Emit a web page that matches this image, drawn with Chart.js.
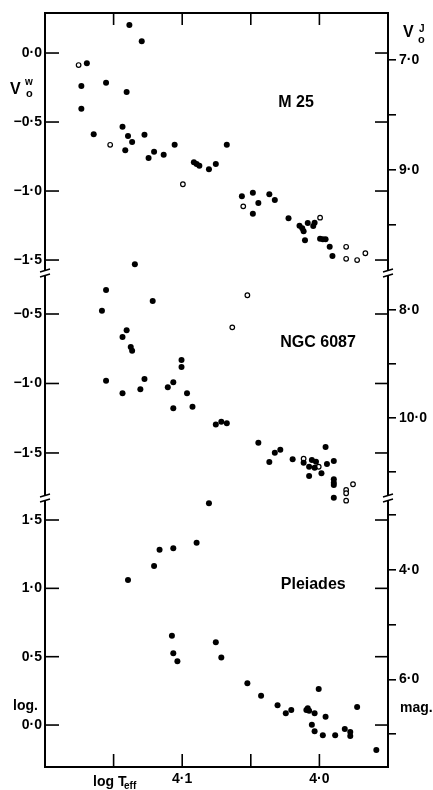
<!DOCTYPE html>
<html>
<head>
<meta charset="utf-8">
<script src="https://cdn.jsdelivr.net/npm/chart.js@4.4.0/dist/chart.umd.min.js"></script>
<style>
  body { margin: 0; background: #fff; }
  #wrap { width: 433px; height: 790px; }
</style>
</head>
<body>
<div id="wrap"><canvas id="hrd"></canvas></div>
<script>
// values (log Teff, V0)
const m25LogT = [4.170, 4.174, 4.174, 4.165, 4.156, 4.141, 4.139, 4.130, 4.144, 4.140, 4.137, 4.142, 4.128, 4.125,
  4.121, 4.114, 4.106, 4.092, 4.090, 4.088, 4.081, 4.076, 4.068, 4.057, 4.049, 4.049, 4.045, 4.037, 4.033, 4.023,
  4.015, 4.013, 4.012, 4.009, 4.011, 4.004, 4.005, 4.000, 3.998, 3.996, 3.993, 3.991];
const m25V = [-0.075, -0.239, -0.404, -0.589, -0.215, -0.283, 0.203, 0.085, -0.534, -0.601, -0.645, -0.705, -0.592, -0.761,
  -0.715, -0.737, -0.665, -0.792, -0.804, -0.817, -0.843, -0.804, -0.665, -1.038, -1.012, -1.164, -1.087, -1.024, -1.065, -1.198,
  -1.251, -1.270, -1.292, -1.232, -1.357, -1.230, -1.254, -1.346, -1.350, -1.350, -1.404, -1.471];
const m25OpenLogT = [4.176, 4.153, 4.100, 4.056, 4.000, 3.981, 3.981, 3.973, 3.967];
const m25OpenV = [-0.087, -0.665, -0.951, -1.111, -1.193, -1.404, -1.491, -1.500, -1.451];

const ngcLogT = [4.135, 4.156, 4.159, 4.122, 4.141, 4.144, 4.138, 4.137, 4.156, 4.144, 4.131, 4.128, 4.111, 4.107,
  4.101, 4.101, 4.107, 4.097, 4.093, 4.076, 4.072, 4.068, 4.045, 4.037, 4.033, 4.029, 4.020, 4.012, 4.008, 4.008,
  4.006, 4.003, 4.004, 3.999, 3.996, 3.995, 3.990, 3.990, 3.990, 3.990, 3.990];
const ngcV = [-0.142, -0.327, -0.476, -0.406, -0.617, -0.665, -0.737, -0.764, -0.980, -1.071, -1.042, -0.968, -1.027, -0.991,
  -0.831, -0.881, -1.178, -1.071, -1.167, -1.296, -1.275, -1.286, -1.426, -1.565, -1.498, -1.476, -1.545, -1.570, -1.599, -1.665,
  -1.550, -1.563, -1.606, -1.646, -1.457, -1.579, -1.558, -1.689, -1.714, -1.730, -1.822];
const ngcOpenLogT = [4.053, 4.064, 4.012, 4.001, 3.981, 3.981, 3.981, 3.976];
const ngcOpenV = [-0.365, -0.596, -1.541, -1.599, -1.766, -1.790, -1.843, -1.725];

const pleiLogT = [4.081, 4.090, 4.107, 4.117, 4.121, 4.140, 4.108, 4.107, 4.104, 4.076, 4.072, 4.053, 4.043, 4.031,
  4.025, 4.021, 4.010, 4.009, 4.008, 4.004, 4.001, 3.996, 4.006, 4.004, 3.998, 3.989, 3.982, 3.978, 3.978, 3.973, 3.959];
const pleiV = [1.622, 1.334, 1.293, 1.282, 1.163, 1.061, 0.653, 0.525, 0.466, 0.605, 0.495, 0.305, 0.214, 0.144,
  0.086, 0.110, 0.110, 0.122, 0.105, 0.086, 0.263, 0.061, 0.002, -0.046, -0.075, -0.075, -0.029, -0.051, -0.080, 0.132, -0.183];

const panelNames = ['M 25', 'NGC 6087', 'Pleiades'];
const logTLabels = {'4.1': '4·1', '4.0': '4·0'};

const pts = (xs, ys) => xs.map((x, i) => ({x: x, y: ys[i]}));
const fmt = v => {
  const s = Math.abs(v) < 1e-9 ? '0.0' : v.toFixed(1);
  return s.replace('.', '·').replace('-', '−');
};

const FONT = 'Liberation Sans';
// clip off: a few stars sit just past their panel's break
const filled = {pointRadius: 3, pointHoverRadius: 3, backgroundColor: '#000', borderWidth: 0, pointBorderWidth: 0, clip: false};
const open = {pointRadius: 2.3, pointHoverRadius: 2.3, backgroundColor: '#fff', borderColor: '#000', pointBorderWidth: 1.2, clip: false};

function leftAxis(min, max, weight, stackWeight) {
  return {
    type: 'linear', position: 'left', stack: 'L', stackWeight: stackWeight, weight: weight,
    min: min, max: max,
    grid: {drawOnChartArea: false, drawTicks: false},
    border: {display: true, width: 2, color: '#000'},
    ticks: {stepSize: 0.5, includeBounds: false, padding: 3, color: '#000',
      font: {family: FONT, size: 14, weight: 'bold'}, callback: v => fmt(v)},
    afterFit: s => { s.width = 45; }
  };
}
function rightAxis(min, max, weight, stackWeight, shown) {
  return {
    type: 'linear', position: 'right', stack: 'R', stackWeight: stackWeight, weight: weight,
    min: min, max: max, reverse: true,
    grid: {drawOnChartArea: false, drawTicks: true, tickLength: 8, lineWidth: 1.6, color: '#000'},
    border: {display: true, width: 2, color: '#000'},
    ticks: {stepSize: 1, includeBounds: false, padding: 3, color: '#000',
      font: {family: FONT, size: 14, weight: 'bold'},
      callback: v => shown.includes(v) ? fmt(v) : ''},
    afterFit: s => { s.width = 45; }
  };
}

function line(ctx, x1, y1, x2, y2) {
  ctx.beginPath(); ctx.moveTo(x1, y1); ctx.lineTo(x2, y2); ctx.stroke();
}

const extras = {
  id: 'extras',
  afterDraw(chart) {
    const {ctx, chartArea: a, scales} = chart;
    const sx = scales.x;
    ctx.save();
    ctx.strokeStyle = '#000';
    ctx.fillStyle = '#000';
    ctx.lineWidth = 2;
    line(ctx, a.left - 1, a.top, a.right + 1, a.top);

    // inward ticks, log Teff axis, top and bottom
    ctx.lineWidth = 1.6;
    sx.ticks.forEach(t => {
      if (t.value > 4.16) return;
      const px = sx.getPixelForValue(t.value);
      line(ctx, px, a.bottom, px, a.bottom - 13);
      line(ctx, px, a.top, px, a.top + 12);
    });
    // inward ticks of the V(W) scales, repeated on the right edge
    ['yA', 'yB', 'yC'].forEach(id => {
      scales[id].ticks.forEach(t => {
        const py = scales[id].getPixelForValue(t.value);
        line(ctx, a.left, py, a.left + 14, py);
        line(ctx, a.right - 13, py, a.right, py);
      });
    });

    // axis breaks between panels
    [scales.yA.bottom, scales.yB.bottom].forEach(by => {
      [a.left, a.right].forEach(bx => {
        ctx.fillStyle = '#fff';
        ctx.fillRect(bx - 3, by - 2, 6, 4);
        ctx.lineWidth = 1.4;
        line(ctx, bx - 5, by - 1, bx + 5, by - 4);
        line(ctx, bx - 5, by + 4, bx + 5, by + 1);
      });
    });

    // panel names
    ctx.fillStyle = '#000';
    ctx.textAlign = 'center';
    ctx.textBaseline = 'middle';
    ctx.font = 'bold 16px ' + FONT;
    ctx.fillText(panelNames[0], sx.getPixelForValue(4.0175), scales.yA.getPixelForValue(-0.362));
    ctx.fillText(panelNames[1], sx.getPixelForValue(4.0015), scales.yB.getPixelForValue(-0.709));
    ctx.fillText(panelNames[2], sx.getPixelForValue(4.005), scales.yC.getPixelForValue(1.024));

    // axis names
    ctx.textAlign = 'left';
    ctx.textBaseline = 'alphabetic';
    ctx.font = 'bold 16px ' + FONT;
    ctx.fillText('V', 10, 94);
    ctx.fillText('V', 403, 37);
    ctx.font = 'bold 10px ' + FONT;
    ctx.fillText('w', 25, 85);
    ctx.fillText('J', 419, 32);
    ctx.font = 'bold 11px ' + FONT;
    ctx.fillText('o', 26, 97);
    ctx.fillText('o', 418, 43);
    ctx.font = 'bold 14px ' + FONT;
    ctx.fillText('log.', 13, 710);
    ctx.fillText('mag.', 400, 712);
    ctx.font = 'bold 14px ' + FONT;
    ctx.fillText('log T', 93, 786);
    ctx.font = 'bold 10px ' + FONT;
    ctx.fillText('eff', 124, 789);
    ctx.restore();
  }
};

new Chart(document.getElementById('hrd'), {
  type: 'scatter',
  data: {
    datasets: [
      Object.assign({label: 'M 25', data: pts(m25LogT, m25V), yAxisID: 'yA'}, filled),
      Object.assign({label: 'M 25 open', data: pts(m25OpenLogT, m25OpenV), yAxisID: 'yA'}, open),
      Object.assign({label: 'NGC 6087', data: pts(ngcLogT, ngcV), yAxisID: 'yB'}, filled),
      Object.assign({label: 'NGC 6087 open', data: pts(ngcOpenLogT, ngcOpenV), yAxisID: 'yB'}, open),
      Object.assign({label: 'Pleiades', data: pts(pleiLogT, pleiV), yAxisID: 'yC'}, filled)
    ]
  },
  options: {
    responsive: true,
    maintainAspectRatio: false,
    animation: false,
    layout: {padding: {top: 13, left: 0, right: 0, bottom: 0}},
    plugins: {legend: {display: false}, tooltip: {enabled: false}},
    scales: {
      x: {
        type: 'linear', position: 'bottom', reverse: true, min: 3.9505, max: 4.2005,
        grid: {drawOnChartArea: false, drawTicks: false},
        border: {display: true, width: 2, color: '#000'},
        ticks: {stepSize: 0.05, includeBounds: false, padding: 4, maxRotation: 0, autoSkip: false, color: '#000',
          font: {family: FONT, size: 14, weight: 'bold'},
          callback: v => logTLabels[v.toFixed(2).replace(/0$/, '')] || ''},
        afterFit: s => { s.height = 23; }
      },
      yA: leftAxis(-1.594, 0.29, 3, 260),
      yB: leftAxis(-1.824, -0.205, 2, 225),
      yC: leftAxis(-0.307, 1.661, 1, 269),
      rA: rightAxis(6.145, 10.873, 1, 260, [7, 9]),
      rB: rightAxis(7.315, 11.48, 2, 225, [8, 10]),
      rC: rightAxis(2.684, 7.60, 3, 269, [4, 6])
    }
  },
  plugins: [extras]
});
</script>
</body>
</html>
